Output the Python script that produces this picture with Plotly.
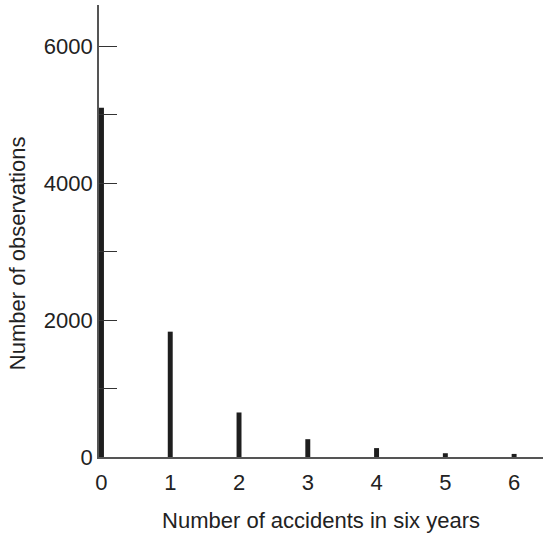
import plotly.graph_objects as go

# accidents data
accidents = [0, 1, 2, 3, 4, 5, 6]
observations = [5100, 1830, 650, 260, 130, 55, 45]

y_tickvals = [0, 1000, 2000, 3000, 4000, 5000, 6000]
y_ticktext = ["0", "", "2000", "", "4000", "", "6000"]

fig = go.Figure()
fig.add_trace(go.Bar(
    x=accidents,
    y=observations,
    width=0.072,
    marker=dict(color="#1e1e1e", line=dict(width=0)),
))

fig.update_layout(
    width=543,
    height=534,
    margin=dict(l=99, r=0, t=5, b=77),
    paper_bgcolor="white",
    plot_bgcolor="white",
    showlegend=False,
    font=dict(family="Liberation Sans, Arial, sans-serif", size=22, color="#222"),
)

fig.update_xaxes(
    range=[-0.036, 6.42],
    tickvals=accidents,
    showgrid=False,
    zeroline=False,
    showline=True,
    linecolor="#555",
    linewidth=1.5,
    ticks="",
    ticklabelstandoff=5,
    title=dict(text="Number of accidents in six years", font=dict(size=22), standoff=18),
)

fig.update_yaxes(
    range=[0, 6600],
    tickvals=y_tickvals,
    ticktext=y_ticktext,
    showgrid=False,
    zeroline=False,
    showline=True,
    linecolor="#555",
    linewidth=1.8,
    ticks="inside",
    ticklen=18,
    tickwidth=1.2,
    tickcolor="#333",
)

# titre vertical placé à la main (décalé vers le bas comme l'original)
fig.add_annotation(
    text="Number of observations",
    xref="paper", yref="paper",
    x=0, y=0.451,
    xanchor="center", yanchor="middle",
    xshift=-82,
    textangle=-90,
    showarrow=False,
    font=dict(size=22, color="#222"),
)

fig.write_html("out.html", config={"displayModeBar": False},
               post_script="document.body.style.margin='0';")
